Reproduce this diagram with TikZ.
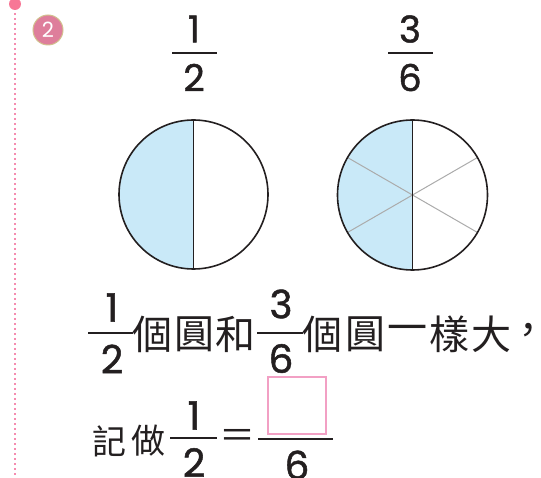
\documentclass[tikz,border=0pt]{standalone}
\usepackage{fontspec}
\usetikzlibrary{calc}
\setmainfont{Poppins}
\newfontfamily\digitfont[FakeBold=1.3]{Poppins}
\newfontfamily\cjk{Noto Sans CJK TC}
\definecolor{pieblue}{HTML}{C9E9F8}
\definecolor{inkblack}{HTML}{231F20}
\definecolor{spokegray}{HTML}{ABABAB}
\definecolor{badgepink}{HTML}{DE7E9B}
\definecolor{badgerim}{HTML}{D2C08E}
\definecolor{dotpink}{HTML}{F58CB0}
\definecolor{boxpink}{HTML}{F2A0C4}
\begin{document}
\begin{tikzpicture}[x=1pt,y=-1pt,
  num/.style={inner sep=0pt, font=\digitfont\fontsize{37}{37}\selectfont, text=inkblack},
  numsm/.style={inner sep=0pt, font=\digitfont\fontsize{39}{39}\selectfont, text=inkblack},
  cjkA/.style={inner sep=0pt, font=\cjk\fontsize{40}{40}\selectfont, text=inkblack},
  cjkB/.style={inner sep=0pt, font=\cjk\fontsize{34}{34}\selectfont, text=inkblack},
  bar/.style={line width=1.6pt, draw=inkblack},
  rim/.style={line width=1.6pt, draw=inkblack},
  spoke/.style={line width=1pt, draw=spokegray}]
\useasboundingbox (0,0) rectangle (541,478);

% margin dotted line and dot
\coordinate (topdot) at (15,4);
\coordinate (lineend) at (15,478);
\draw[dotpink, line width=2pt, dash pattern=on 2pt off 3pt] (15,13) -- (lineend);
\fill[dotpink!85!red] (topdot) circle[radius=6];

% badge
\node[circle, fill=badgepink, draw=badgerim, line width=1pt, minimum size=30pt, inner sep=0pt,
  text=white, font=\fontsize{21}{21}\selectfont] (badge) at (48,30) {2};

% top fractions
\node[num] (n1) at (194,29) {1};
\node[num] (d1) at (194,77.5) {2};
\draw[bar] (172,53) -- (217,53);
\node[num] (n2) at (410,29) {3};
\node[num] (d2) at (410,77.5) {6};
\draw[bar] (388,53) -- (433,53);

% circle 1
\coordinate (c1) at (193.5,194.5);
\begin{scope}
  \clip (c1) circle[radius=74.5];
  \fill[pieblue] ($(c1)+(-80,-80)$) rectangle ($(c1)+(0,80)$);
\end{scope}
\draw[rim] ($(c1)+(0,-74.5)$) -- ($(c1)+(0,74.5)$);
\draw[rim] (c1) circle[radius=74.5];

% circle 2
\coordinate (c2) at (412.5,195);
\begin{scope}
  \clip (c2) circle[radius=75];
  \fill[pieblue] ($(c2)+(-80,-80)$) rectangle ($(c2)+(0,80)$);
\end{scope}
\draw[spoke] ($(c2)+(-65,-37.5)$) -- ($(c2)+(65,37.5)$);
\draw[spoke] ($(c2)+(-65,37.5)$) -- ($(c2)+(65,-37.5)$);
\draw[rim] ($(c2)+(0,-75)$) -- ($(c2)+(0,75)$);
\draw[rim] (c2) circle[radius=75];

% line 1
\node[numsm] (l1n1) at (112,307.5) {1};
\node[numsm] (l1d1) at (112,359) {2};
\draw[bar] (88,333) -- (133,333);
\node[cjkA] (t1a) at (152,334) {個};
\node[cjkA] (t1b) at (194,334) {圓};
\node[cjkA] (t1c) at (235,334) {和};
\node[numsm] (l1n2) at (281,304) {3};
\node[numsm] (l1d2) at (281,358.5) {6};
\draw[bar] (257,333) -- (303,333);
\node[cjkA] (t2a) at (322,334) {個};
\node[cjkA] (t2b) at (365,334) {圓};
\node[cjkA] (t2c) at (407,334) {一};
\node[cjkA] (t2d) at (449,334) {樣};
\node[cjkA] (t2e) at (491,334) {大};
\node[cjkA] (t2f) at (528,334) {\makebox[14pt][c]{，}};

% line 2
\node[cjkB] (t3a) at (109,441) {記};
\node[cjkB] (t3b) at (148,441) {做};
\node[numsm] (l2n1) at (194,415.5) {1};
\node[numsm] (l2d1) at (194,462.5) {2};
\draw[bar] (170,438) -- (217,438);
\node[cjkB, font=\cjk\fontsize{36}{36}\selectfont] (eq) at (237.5,439) {＝};
\draw[bar] (258,439) -- (333,439);
\node[draw=boxpink, line width=2pt, minimum width=58pt, minimum height=57pt, inner sep=0pt] (box) at (296.5,405) {};
\node[numsm] (l2d2) at (297,465) {6};
\end{tikzpicture}
\end{document}
